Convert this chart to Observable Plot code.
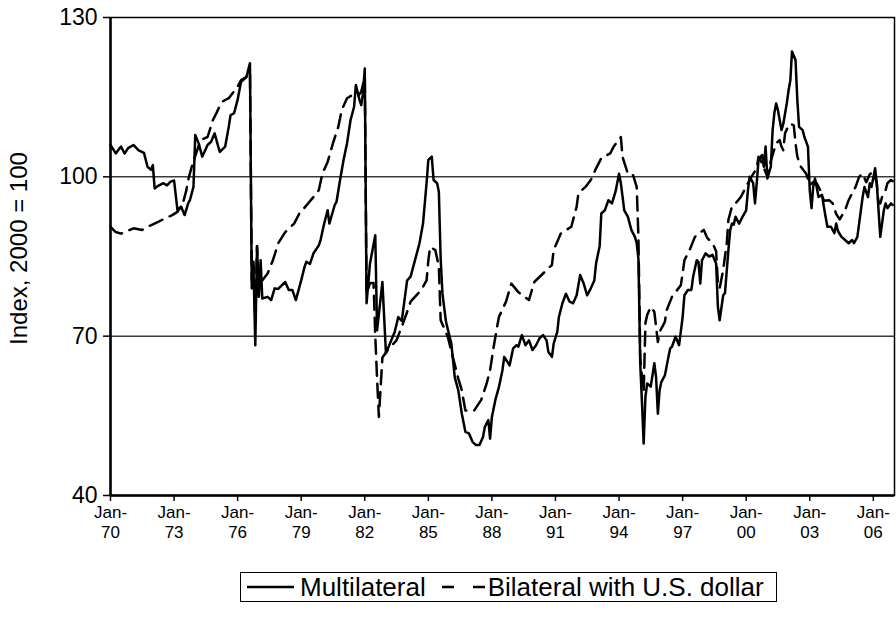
<!DOCTYPE html>
<html>
<head>
<meta charset="utf-8">
<script src="https://cdn.jsdelivr.net/npm/d3@7"></script>
<script src="https://cdn.jsdelivr.net/npm/@observablehq/plot@0.6"></script>
<style>
  html, body { margin: 0; padding: 0; background: #fff; }
  body { width: 896px; height: 621px; position: relative; overflow: hidden; font-family: "Liberation Sans", Arial, sans-serif; }
  #chart { position: absolute; left: 0; top: 0; }
  #legend { position: absolute; left: 240px; top: 572px; width: 537px; height: 30px; box-sizing: border-box;
            border: 1px solid #000; display: flex; align-items: center; padding-left: 6px;
            font-family: "Liberation Sans", Arial, sans-serif; font-size: 26px; color: #000; white-space: nowrap; }
  #legend .item { display: flex; align-items: center; }
  #legend .item + .item { margin-left: 16px; }
  #legend svg { margin-right: 6px; }
  #legend .item + .item svg { margin-right: 3px; }
</style>
</head>
<body>
<div id="chart"></div>
<div id="legend"></div>
<script>
// ---- Data ----
const seriesNames = ["Multilateral", "Bilateral with U.S. dollar"];

const multiDates = [
  "1970-01","1970-04","1970-07","1970-09","1970-11","1971-02","1971-05","1971-08","1971-10","1971-12",
  "1972-01","1972-02","1972-04","1972-07","1972-09","1972-11","1973-01","1973-03","1973-05","1973-07",
  "1973-09","1973-10","1973-12","1974-01","1974-03","1974-05","1974-08","1974-10","1974-12","1975-02",
  "1975-03","1975-06","1975-08","1975-09","1975-11","1976-01","1976-02","1976-03","1976-06","1976-08",
  "1976-09","1976-10","1976-11","1976-12","1977-01","1977-02","1977-03","1977-06","1977-08","1977-10",
  "1977-12","1978-04","1978-06","1978-08","1978-10","1979-01","1979-03","1979-04","1979-06","1979-08",
  "1979-11","1979-12","1980-02","1980-04","1980-05","1980-08","1980-09","1980-11","1981-01","1981-03",
  "1981-05","1981-07","1981-08","1981-10","1981-11","1981-12","1982-01","1982-02","1982-04","1982-07",
  "1982-08","1982-11","1983-01","1983-04","1983-06","1983-08","1983-10","1984-01","1984-03","1984-05",
  "1984-07","1984-08","1984-10","1984-12","1985-01","1985-03","1985-04","1985-06","1985-07","1985-08",
  "1985-09","1985-11","1986-02","1986-04","1986-06","1986-08","1986-10","1986-12","1987-02","1987-04",
  "1987-06","1987-08","1987-09","1987-11","1987-12","1988-01","1988-03","1988-05","1988-07","1988-08",
  "1988-11","1989-01","1989-03","1989-04","1989-06","1989-08","1989-10","1989-12","1990-02","1990-04",
  "1990-06","1990-08","1990-09","1990-11","1990-12","1991-02","1991-03","1991-05","1991-07","1991-09",
  "1991-11","1992-01","1992-03","1992-05","1992-07","1992-09","1992-11","1992-12","1993-02","1993-03",
  "1993-05","1993-07","1993-09","1993-11","1994-01","1994-02","1994-04","1994-06","1994-08","1994-10",
  "1994-11","1994-12","1995-01","1995-02","1995-03","1995-04","1995-05","1995-07","1995-09","1995-10",
  "1995-11","1995-12","1996-01","1996-03","1996-05","1996-06","1996-07","1996-09","1996-11","1997-01",
  "1997-02","1997-04","1997-06","1997-07","1997-09","1997-10","1997-11","1997-12","1998-02","1998-04",
  "1998-06","1998-08","1998-09","1998-10","1998-12","1999-01","1999-02","1999-03","1999-04","1999-05",
  "1999-06","1999-07","1999-09","1999-11","2000-01","2000-02","2000-03","2000-05","2000-06","2000-07",
  "2000-08","2000-10","2000-11","2000-12","2001-01","2001-03","2001-04","2001-05","2001-06","2001-07",
  "2001-09","2001-10","2001-12","2002-01","2002-02","2002-03","2002-05","2002-06","2002-07","2002-09",
  "2002-10","2002-12","2003-01","2003-02","2003-03","2003-04","2003-05","2003-06","2003-08","2003-09",
  "2003-10","2003-11","2004-01","2004-03","2004-04","2004-05","2004-07","2004-09","2004-11","2005-01",
  "2005-02","2005-04","2005-05","2005-07","2005-08","2005-10","2005-11","2005-12","2006-02","2006-03",
  "2006-04","2006-05","2006-07","2006-08","2006-09","2006-11","2006-12"
];
const multiValues = [
  106.0,104.4,105.7,104.4,105.4,106.0,105.0,104.5,101.9,101.3,
  102.2,97.8,98.3,98.8,98.4,99.1,99.3,93.7,94.4,92.8,
  95.0,95.6,98.1,107.9,106.3,103.8,106.0,106.6,108.2,105.7,
  104.7,105.7,109.4,111.6,112.0,114.5,116.3,117.9,118.8,121.4,
  79.0,83.0,68.3,86.8,77.4,84.3,77.1,77.4,76.8,79.0,
  78.9,80.2,78.7,78.7,76.8,80.5,83.1,84.0,83.6,85.6,
  87.1,88.1,91.2,93.7,91.2,94.7,95.3,99.4,103.2,106.3,
  110.7,113.2,117.3,114.5,113.5,115.7,120.4,76.2,83.7,89.0,
  71.1,80.2,66.8,69.2,70.8,73.6,72.9,80.5,81.2,83.7,
  86.2,87.5,91.2,98.8,103.2,103.8,99.4,98.8,97.2,84.6,
  78.0,72.7,68.6,62.3,59.8,55.4,52.0,51.7,50.1,49.5,
  49.5,51.0,52.9,54.2,50.7,54.8,58.0,60.4,63.6,66.1,
  64.5,67.7,68.3,68.0,70.2,68.3,69.2,67.4,68.3,69.6,
  70.2,69.2,67.0,66.1,68.6,70.8,73.6,76.2,78.0,76.5,
  76.2,77.7,81.5,79.9,77.7,79.0,80.5,83.7,87.0,93.1,
  93.7,95.6,95.0,97.2,100.6,98.8,93.7,92.5,90.0,88.7,
  87.5,84.6,64.9,57.3,49.8,58.6,61.1,60.5,64.9,62.3,
  55.4,59.8,61.4,62.6,66.1,67.7,68.0,69.9,68.3,73.6,
  77.7,78.7,78.7,81.2,84.3,84.0,79.9,84.3,85.6,85.0,
  85.3,83.7,75.5,73.0,77.7,78.1,82.4,86.2,90.0,91.2,
  91.0,92.5,91.2,92.5,93.7,97.5,100.0,98.8,95.0,98.8,
  103.2,104.1,101.9,105.7,99.7,101.9,108.8,112.0,113.8,112.6,
  108.8,109.9,113.8,116.3,118.2,123.6,122.0,114.5,109.4,108.8,
  107.5,105.7,97.5,94.1,98.1,99.7,98.1,96.2,96.6,94.4,
  92.5,90.6,90.6,89.4,91.2,89.8,88.7,88.1,87.5,88.1,
  87.5,88.7,91.2,96.2,98.1,96.2,98.8,98.1,101.6,98.8,
  93.7,88.7,93.7,95.0,94.1,95.0,94.7
];

const bilatDates = [
  "1970-01","1970-04","1970-07","1970-09","1971-02","1971-07","1971-10","1972-04","1972-08","1972-12",
  "1973-03","1973-06","1973-08","1973-09","1973-11","1974-04","1974-08","1974-11","1975-01","1975-04",
  "1975-08","1976-01","1976-03","1976-06","1976-07","1976-08","1976-09","1976-10","1976-11","1976-12",
  "1977-01","1977-03","1977-06","1977-09","1977-12","1978-04","1978-09","1978-12","1979-05","1979-08",
  "1979-11","1980-01","1980-04","1980-07","1980-10","1980-12","1981-03","1981-06","1981-09","1981-11",
  "1982-01","1982-02","1982-04","1982-06","1982-07","1982-08","1982-09","1982-11","1983-02","1983-07",
  "1983-10","1983-12","1984-03","1984-09","1984-12","1985-01","1985-02","1985-05","1985-07","1985-08",
  "1985-12","1986-06","1986-08","1986-10","1987-03","1987-07","1987-10","1987-12","1988-02","1988-04",
  "1988-05","1988-09","1988-12","1989-04","1989-10","1990-01","1990-06","1990-11","1990-12","1991-04",
  "1991-10","1992-01","1992-02","1992-06","1992-09","1992-12","1993-03","1993-08","1993-10","1994-02",
  "1994-03","1994-06","1994-07","1994-09","1994-11","1994-12","1995-01","1995-02","1995-03","1995-04",
  "1995-05","1995-07","1995-09","1995-10","1995-11","1995-12","1996-03","1996-04","1996-07","1996-09",
  "1996-12","1997-01","1997-02","1997-05","1997-08","1997-10","1998-01","1998-03","1998-06","1998-08",
  "1998-09","1998-10","1998-12","1999-02","1999-03","1999-05","1999-07","1999-10","1999-12","2000-02",
  "2000-04","2000-07","2000-08","2000-10","2001-01","2001-03","2001-06","2001-08","2001-09","2001-10",
  "2001-11","2002-01","2002-02","2002-04","2002-05","2002-06","2002-08","2002-11","2003-01","2003-03",
  "2003-05","2003-07","2003-09","2003-12","2004-02","2004-04","2004-06","2004-09","2004-11","2005-01",
  "2005-03","2005-05","2005-07","2005-09","2005-11","2006-01","2006-03","2006-04","2006-05","2006-06",
  "2006-08","2006-09","2006-11","2006-12"
];
const bilatValues = [
  90.6,89.6,89.3,89.6,90.3,90.0,90.6,91.5,92.2,92.8,
  93.4,95.0,97.5,99.4,101.9,106.9,107.5,110.7,112.0,114.1,
  114.8,117.0,118.2,118.8,119.8,119.5,80.5,84.0,73.0,87.0,
  80.0,80.5,81.8,84.3,87.5,89.6,91.2,93.1,95.0,96.2,
  97.5,100.6,102.8,106.3,109.4,112.6,114.8,115.4,115.2,116.0,
  118.8,78.0,80.0,80.0,70.0,62.0,54.8,66.0,67.4,69.2,
  71.8,73.6,76.5,78.7,80.5,84.3,86.8,86.2,83.1,73.0,
  69.9,62.0,59.8,56.0,56.0,58.0,61.0,63.6,68.0,71.8,
  73.6,76.5,79.9,78.3,76.8,80.2,81.8,83.4,86.2,89.3,
  90.6,94.4,96.9,98.1,99.4,101.6,103.5,104.4,105.7,107.5,
  103.8,100.6,100.3,100.3,98.1,88.7,66.0,62.0,59.5,72.5,
  74.0,75.5,74.6,71.8,68.9,70.8,72.7,74.9,77.4,78.3,
  79.6,81.8,84.3,86.2,88.7,89.3,90.0,88.5,87.5,86.0,
  80.0,79.0,82.5,87.5,91.9,94.4,95.0,96.2,97.5,98.8,
  100.0,101.6,103.8,102.5,100.0,103.0,106.3,106.9,105.7,105.0,
  108.2,109.7,110.0,109.7,106.3,103.8,101.9,100.6,98.5,99.0,
  98.8,97.5,95.5,95.6,95.0,93.0,92.0,93.7,95.6,96.9,
  98.1,100.0,100.6,99.0,100.5,101.0,98.8,95.0,95.0,96.2,
  97.5,98.8,99.4,99.2
];

const yTicks = [40, 70, 100, 130];
const gridValues = [70, 100];
const xTickYears = [1970, 1973, 1976, 1979, 1982, 1985, 1988, 1991, 1994, 1997, 2000, 2003, 2006];
const xDomainYears = [1970, 2007];
const yLabel = "Index, 2000 = 100";

// ---- Build tables ----
const parseMonth = d3.utcParse("%Y-%m");
const multi = multiDates.map((d, i) => ({date: parseMonth(d), value: multiValues[i]}));
const bilat = bilatDates.map((d, i) => ({date: parseMonth(d), value: bilatValues[i]}));
const xTicks = xTickYears.map(y => new Date(Date.UTC(y, 0, 1)));
const fmtYY = d3.utcFormat("%y");

const chart = Plot.plot({
  width: 896,
  height: 552,
  marginLeft: 110,
  marginRight: 2,
  marginTop: 17,
  marginBottom: 57,
  style: {fontFamily: "'Liberation Sans', Arial, sans-serif", color: "#000", background: "#fff", overflow: "visible"},
  x: {type: "utc", domain: xDomainYears.map(y => new Date(Date.UTC(y, 0, 1)))},
  y: {domain: [yTicks[0], yTicks[yTicks.length - 1]]},
  marks: [
    Plot.ruleY(gridValues, {stroke: "#3a3a3a", strokeWidth: 1.5}),
    Plot.frame({stroke: "#000", strokeWidth: 1.5}),
    Plot.axisY({ticks: yTicks, tickSize: 7, tickPadding: 6, fontSize: 23, label: null, stroke: "#000", strokeWidth: 1.5}),
    Plot.axisX({ticks: xTicks, tickSize: 6, tickPadding: 2, fontSize: 17, lineHeight: 1.2,
                tickFormat: d => "Jan-\n" + fmtYY(d), label: null, stroke: "#000", strokeWidth: 1.5}),
    Plot.ruleX([xDomainYears[0]].map(y => new Date(Date.UTC(y, 0, 1))), {stroke: "#000", strokeWidth: 2.5}),
    Plot.ruleY([yTicks[0]], {stroke: "#000", strokeWidth: 2.5}),
    Plot.text([yLabel], {text: d => d, frameAnchor: "left", textAnchor: "middle", dx: -91, dy: -8, rotate: -90, fontSize: 24, fill: "#000"}),
    Plot.lineY(bilat, {x: "date", y: "value", stroke: "#000", strokeWidth: 2.5, strokeDasharray: "14,8", curve: "linear"}),
    Plot.lineY(multi, {x: "date", y: "value", stroke: "#000", strokeWidth: 2.5, curve: "linear"})
  ]
});
document.getElementById("chart").appendChild(chart);

// ---- Legend (HTML, below the SVG) ----
const legend = document.getElementById("legend");
const swatches = [{w: 47, dash: ""}, {w: 43, dash: "12,19"}];
seriesNames.forEach((name, i) => {
  const item = document.createElement("div");
  item.className = "item";
  const s = swatches[i];
  item.innerHTML = `<svg width="${s.w}" height="6"><line x1="0" y1="3" x2="${s.w}" y2="3" stroke="#000" stroke-width="2.5" ${s.dash ? `stroke-dasharray="${s.dash}"` : ""}/></svg><span>${name}</span>`;
  legend.appendChild(item);
});
</script>
</body>
</html>
